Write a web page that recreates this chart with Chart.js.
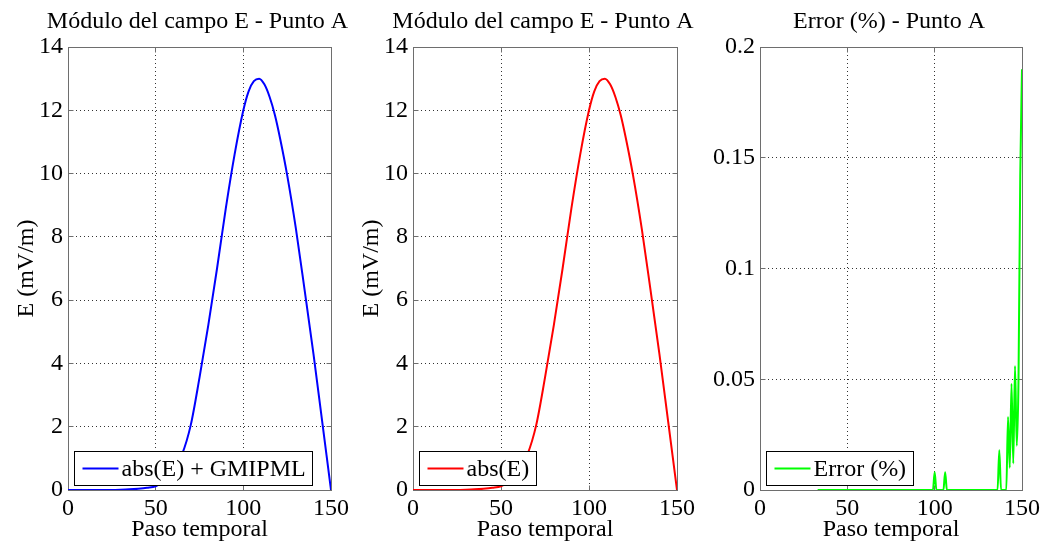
<!DOCTYPE html>
<html>
<head>
<meta charset="utf-8">
<script src="https://cdn.jsdelivr.net/npm/chart.js@4.4.1/dist/chart.umd.min.js"></script>
<style>
  body { margin: 0; background: #fff; }
  #wrap { position: relative; width: 1047px; height: 545px; overflow: hidden; }
  canvas { position: absolute; top: 0; }
</style>
</head>
<body>
<div id="wrap">
  <canvas id="c1" width="355" height="545" style="left:0px"></canvas>
  <canvas id="c2" width="355" height="545" style="left:345px"></canvas>
  <canvas id="c3" width="357" height="545" style="left:690px"></canvas>
</div>
<script>
// paso temporal (x) y modulo del campo E (mV/m)
const pasoE = [0, 10, 20, 30, 35, 40, 45, 50, 55, 60, 65, 70, 75, 80, 85, 90, 95, 100, 103, 106, 109, 112, 115, 118, 121, 125, 130, 135, 140, 145, 150];
const absEGmipml = [0, 0, 0, 0.01, 0.02, 0.04, 0.07, 0.12, 0.3, 0.62, 1.12, 2.05, 3.55, 5.2, 7.0, 8.9, 10.6, 12.0, 12.6, 12.92, 13.0, 12.82, 12.42, 11.85, 11.1, 9.95, 8.25, 6.3, 4.3, 2.15, 0];
const absE = [0, 0, 0, 0.01, 0.02, 0.04, 0.07, 0.12, 0.3, 0.62, 1.12, 2.05, 3.55, 5.2, 7.0, 8.9, 10.6, 12.0, 12.6, 12.92, 13.0, 12.82, 12.42, 11.85, 11.1, 9.95, 8.25, 6.3, 4.3, 2.15, 0];

// error (%)
const pasoErr = [33, 99, 100, 101, 105, 106, 107, 136, 137, 138, 141, 142, 143, 144, 145, 146, 147, 148, 149, 150];
const errorPct = [0, 0, 0.008, 0, 0, 0.008, 0, 0, 0.018, 0, 0, 0.033, 0.01, 0.048, 0.012, 0.056, 0.02, 0.05, 0.142, 0.19];

const xTicks = [0, 50, 100, 150];
const eTicks = [0, 2, 4, 6, 8, 10, 12, 14];
const errTicks = [0, 0.05, 0.1, 0.15, 0.2];

const FONT = "'Liberation Serif', 'Times New Roman', serif";
const FSIZE = 24;

const toPoints = (xs, ys) => xs.map((x, i) => ({ x: x, y: ys[i] }));

// marco gris, marcas interiores, titulo y leyenda al estilo MATLAB
const matlabPlugin = {
  id: "matlab",
  beforeDatasetsDraw(chart) {
    const { ctx, chartArea: a, scales } = chart;
    ctx.save();
    ctx.strokeStyle = "#6e6e6e";
    ctx.lineWidth = 1;
    const L = Math.floor(a.left) + 0.5, R = Math.floor(a.right) + 0.5;
    const T = Math.floor(a.top) + 0.5, B = Math.floor(a.bottom) + 0.5;
    ctx.strokeRect(L, T, R - L, B - T);
    ctx.beginPath();
    scales.x.ticks.forEach((t) => {
      const px = Math.floor(scales.x.getPixelForValue(t.value)) + 0.5;
      ctx.moveTo(px, B); ctx.lineTo(px, B - 5);
      ctx.moveTo(px, T); ctx.lineTo(px, T + 5);
    });
    scales.y.ticks.forEach((t) => {
      const py = Math.floor(scales.y.getPixelForValue(t.value)) + 0.5;
      ctx.moveTo(L, py); ctx.lineTo(L + 5, py);
      ctx.moveTo(R, py); ctx.lineTo(R - 5, py);
    });
    ctx.stroke();
    ctx.restore();
  },
  afterDatasetsDraw(chart, args, opts) {
    const { ctx, chartArea: a } = chart;
    const ds = chart.data.datasets[0];
    ctx.save();
    ctx.font = FSIZE + "px " + FONT;
    const tw = ctx.measureText(ds.label).width;
    const bx = Math.floor(a.left) + 6.5, by = 451.5;
    const bw = Math.round(8 + 36 + 4 + tw + 6), bh = 34;
    ctx.fillStyle = "#fff";
    ctx.fillRect(bx, by, bw, bh);
    ctx.strokeStyle = "#000";
    ctx.lineWidth = 1;
    ctx.strokeRect(bx, by, bw, bh);
    const cy = by + bh / 2;
    ctx.strokeStyle = ds.borderColor;
    ctx.lineWidth = 2;
    ctx.beginPath();
    ctx.moveTo(bx + 8, cy); ctx.lineTo(bx + 44, cy);
    ctx.stroke();
    ctx.fillStyle = "#000";
    ctx.textBaseline = "middle";
    ctx.textAlign = "left";
    ctx.fillText(ds.label, bx + 47, cy + 1);
    // titulo
    ctx.textAlign = "center";
    ctx.textBaseline = "alphabetic";
    ctx.fillText(opts.title, (a.left + a.right) / 2 - 2, 28);
    ctx.restore();
  }
};

function makeChart(id, points, label, color, yTicks, yMax, yWidth, padRight, yTitle, fmt) {
  new Chart(document.getElementById(id), {
    type: "line",
    data: {
      datasets: [{
        label: label,
        data: points,
        borderColor: color,
        borderWidth: 2,
        pointRadius: 0,
        fill: false,
        cubicInterpolationMode: "monotone",
      }],
    },
    options: {
      responsive: false,
      devicePixelRatio: 1,
      animation: false,
      layout: { padding: { left: 0, right: padRight, top: 47, bottom: 0 } },
      plugins: {
        legend: { display: false },
        tooltip: { enabled: false },
        matlab: { title: id === "c3" ? "Error (%) - Punto A" : "Módulo del campo E - Punto A" },
      },
      scales: {
        x: {
          type: "linear",
          min: 0,
          max: 150,
          afterBuildTicks: (s) => { s.ticks = xTicks.map((v) => ({ value: v })); },
          afterFit: (s) => { s.height = 55; },
          ticks: { color: "#000", padding: 4, maxRotation: 0, font: { family: FONT, size: FSIZE } },
          grid: { color: "#333", lineWidth: 1, drawTicks: false },
          border: { display: false, dash: [1, 3] },
          title: {
            display: true,
            text: "Paso temporal",
            color: "#000",
            font: { family: FONT, size: FSIZE },
            padding: { top: 0, bottom: 1 },
          },
        },
        y: {
          type: "linear",
          min: 0,
          max: yMax,
          afterBuildTicks: (s) => { s.ticks = yTicks.map((v) => ({ value: v })); },
          afterFit: (s) => { s.width = yWidth; },
          ticks: { color: "#000", padding: 5, font: { family: FONT, size: FSIZE }, callback: fmt },
          grid: { color: "#333", lineWidth: 1, drawTicks: false },
          border: { display: false, dash: [1, 3] },
          title: {
            display: !!yTitle,
            text: yTitle,
            color: "#000",
            font: { family: FONT, size: FSIZE },
            padding: { top: 12, bottom: 0 },
          },
        },
      },
    },
    plugins: [matlabPlugin],
  });
}

const fmtInt = (v) => String(v);
const fmtErr = (v) => String(+v.toFixed(2));

makeChart("c1", toPoints(pasoE, absEGmipml), "abs(E) + GMIPML", "#0000ff", eTicks, 14, 68, 24, "E (mV/m)", fmtInt);
makeChart("c2", toPoints(pasoE, absE), "abs(E)", "#ff0000", eTicks, 14, 68, 23, "E (mV/m)", fmtInt);
makeChart("c3", toPoints(pasoErr, errorPct), "Error (%)", "#00ff00", errTicks, 0.2, 70, 25, "", fmtErr);
</script>
</body>
</html>
